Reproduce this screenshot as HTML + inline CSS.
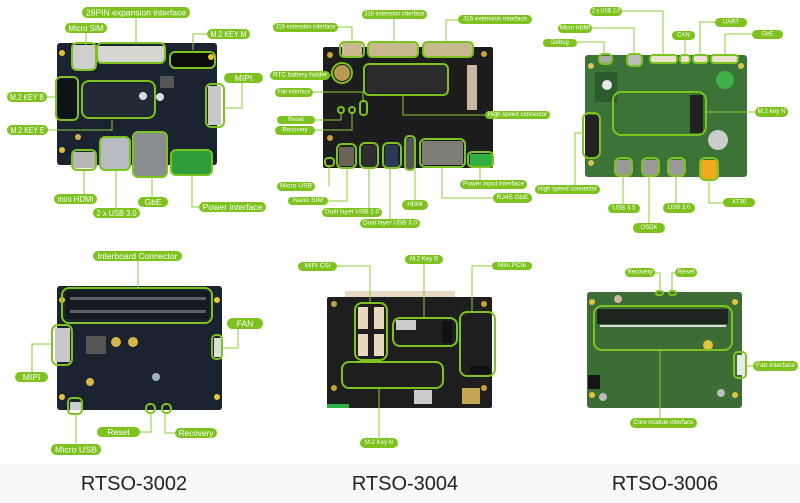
<!DOCTYPE html>
<html><head><meta charset="utf-8"><style>
html,body{margin:0;padding:0;background:#fff;width:800px;height:503px;overflow:hidden}
svg{display:block}
.p{fill:#7dc21e}
.t{fill:#fff;font-family:"Liberation Sans",sans-serif;text-anchor:middle;dominant-baseline:central}
.l{stroke:#8ccb3a;stroke-width:1;fill:none}
.o{stroke:#7dc21e;stroke-width:2;fill:none}
.ttl{font-family:"Liberation Sans",sans-serif;font-size:20px;fill:#222;text-anchor:middle}
</style></head><body>
<svg width="800" height="503" viewBox="0 0 800 503" xmlns="http://www.w3.org/2000/svg">
<rect x="0" y="464" width="800" height="39" fill="#f8f8f8"/>

<!-- ===== Board 1 ===== -->
<rect x="57" y="43" width="160" height="122" rx="3" fill="#1b2330"/>
<rect x="72" y="45" width="24" height="24" fill="#cfcfcf"/>
<rect x="98" y="46" width="66" height="16" fill="#d6d6d0"/>
<rect x="171" y="53" width="43" height="14" fill="#0d0d0d"/>
<rect x="58" y="79" width="19" height="40" fill="#0e1117"/>
<rect x="84" y="84" width="70" height="32" fill="#222a36"/>
<rect x="208" y="86" width="13" height="39" fill="#c8c8c8"/>
<rect x="160" y="76" width="14" height="12" fill="#555"/>
<circle cx="143" cy="96" r="4" fill="#ddd"/><circle cx="160" cy="97" r="4" fill="#ddd"/>
<rect x="73" y="152" width="22" height="16" fill="#b7b7b7"/>
<rect x="101" y="138" width="28" height="32" fill="#b9bcc2"/>
<rect x="134" y="133" width="32" height="43" fill="#8a8d90"/>
<rect x="172" y="151" width="39" height="23" fill="#2f9e3a"/>
<circle cx="62" cy="53" r="3" fill="#e3c23b"/><circle cx="62" cy="150" r="3" fill="#e3c23b"/>
<circle cx="211" cy="57" r="3" fill="#e3c23b"/><circle cx="78" cy="137" r="3" fill="#d4b54a"/>
<rect x="72" y="43" width="24" height="27" rx="5" class="o"/>
<rect x="97" y="43" width="68" height="20" rx="5" class="o"/>
<rect x="170" y="52" width="45" height="16" rx="5" class="o"/>
<rect x="56" y="77" width="22" height="43" rx="5" class="o"/>
<rect x="82" y="81" width="73" height="37" rx="7" class="o"/>
<rect x="206" y="84" width="18" height="43" rx="5" class="o"/>
<rect x="72" y="150" width="24" height="20" rx="5" class="o"/>
<rect x="100" y="137" width="30" height="33" rx="5" class="o"/>
<rect x="133" y="132" width="34" height="45" rx="5" class="o"/>
<rect x="171" y="150" width="41" height="25" rx="5" class="o"/>
<path class="l" d="M136 17V43M86 33V45M207 34H193V50M242 83V108H224M47 97H57M48 130H112V120M84 199V170M116 208V170M152 197V177M199 207H192V175"/>
<g font-size="8.5">
<rect class="p" x="82" y="7" width="108" height="11" rx="5.5"/><text class="t" x="136" y="12.5" textLength="100" lengthAdjust="spacingAndGlyphs">28PIN expansion interface</text>
<rect class="p" x="65" y="23" width="42" height="10" rx="5"/><text class="t" x="86" y="28" textLength="35" lengthAdjust="spacingAndGlyphs">Micro SIM</text>
<rect class="p" x="207" y="29" width="43" height="10" rx="5"/><text class="t" x="228.5" y="34" textLength="36" lengthAdjust="spacingAndGlyphs">M.2 KEY M</text>
<rect class="p" x="224" y="73" width="39" height="10" rx="5"/><text class="t" x="243.5" y="78">MIPI</text>
<rect class="p" x="7" y="92" width="40" height="10" rx="5"/><text class="t" x="27" y="97" textLength="34" lengthAdjust="spacingAndGlyphs">M.2 KEY B</text>
<rect class="p" x="7" y="125" width="41" height="10" rx="5"/><text class="t" x="27.5" y="130" textLength="34" lengthAdjust="spacingAndGlyphs">M.2 KEY E</text>
<rect class="p" x="54" y="194" width="43" height="10" rx="5"/><text class="t" x="75.5" y="199" textLength="36" lengthAdjust="spacingAndGlyphs">mini HDMI</text>
<rect class="p" x="93" y="208" width="47" height="10" rx="5"/><text class="t" x="116.5" y="213" textLength="40" lengthAdjust="spacingAndGlyphs">2 x USB 3.0</text>
<rect class="p" x="138" y="197" width="30" height="10" rx="5"/><text class="t" x="153" y="202">GbE</text>
<rect class="p" x="199" y="202" width="67" height="10" rx="5"/><text class="t" x="232.5" y="207" textLength="60" lengthAdjust="spacingAndGlyphs">Power interface</text>
</g>

<!-- ===== Board 2 ===== -->
<rect x="323" y="47" width="170" height="121" rx="2" fill="#1d1d1d"/>
<rect x="342" y="43" width="20" height="13" fill="#c9b98e"/>
<rect x="369" y="43" width="48" height="13" fill="#c9b98e"/>
<rect x="424" y="43" width="48" height="13" fill="#c9b98e"/>
<rect x="367" y="65" width="80" height="28" fill="#2c2c2c"/>
<circle cx="342" cy="73" r="8" fill="#b89a55"/>
<rect x="467" y="65" width="10" height="45" fill="#c8b8a0"/>
<rect x="339" y="147" width="15" height="19" fill="#6b6357"/>
<rect x="362" y="145" width="14" height="22" fill="#2d2d2d"/>
<rect x="385" y="145" width="13" height="22" fill="#2c3a55"/>
<rect x="406" y="138" width="8" height="31" fill="#555"/>
<rect x="422" y="141" width="41" height="24" fill="#7d7d76"/>
<rect x="470" y="154" width="22" height="12" fill="#30b040"/>
<circle cx="330" cy="55" r="3" fill="#c9a23b"/><circle cx="330" cy="138" r="3" fill="#c9a23b"/><circle cx="484" cy="54" r="3" fill="#c9a23b"/>
<rect x="340" y="42" width="24" height="15" rx="4" class="o"/>
<rect x="368" y="42" width="50" height="15" rx="4" class="o"/>
<rect x="423" y="42" width="50" height="15" rx="4" class="o"/>
<rect x="364" y="64" width="84" height="31" rx="5" class="o"/>
<circle cx="342" cy="73" r="10" class="o"/>
<circle cx="341" cy="110" r="3" class="o"/><circle cx="352" cy="110" r="3" class="o"/>
<rect x="360" y="101" width="7" height="14" rx="3" class="o"/>
<rect x="325" y="158" width="9" height="8" rx="3" class="o"/>
<rect x="337" y="144" width="19" height="24" rx="5" class="o"/>
<rect x="360" y="143" width="18" height="25" rx="5" class="o"/>
<rect x="383" y="143" width="18" height="25" rx="5" class="o"/>
<rect x="405" y="136" width="10" height="34" rx="4" class="o"/>
<rect x="420" y="139" width="45" height="28" rx="5" class="o"/>
<rect x="468" y="152" width="25" height="15" rx="4" class="o"/>
<path class="l" d="M338 27H352V42M394 19V42M458 20H446V42M330 75H332M313 92H363V100M315 120H341V113M315 130H352V113M485 115H403V96M329 186V166M328 201H347V168M369 212V168M390 224V168M415 205V170M493 198H442V167M493 184H480V167"/>
<g font-size="6">
<rect class="p" x="273" y="23" width="65" height="9" rx="4.5"/><text class="t" x="305.5" y="27.5" textLength="60" lengthAdjust="spacingAndGlyphs">J19 extension interface</text>
<rect class="p" x="362" y="10" width="65" height="9" rx="4.5"/><text class="t" x="394.5" y="14.5" textLength="60" lengthAdjust="spacingAndGlyphs">J18 extension interface</text>
<rect class="p" x="458" y="15" width="74" height="9" rx="4.5"/><text class="t" x="495" y="19.5" textLength="64" lengthAdjust="spacingAndGlyphs">J16 extension interface</text>
<rect class="p" x="270" y="71" width="60" height="9" rx="4.5"/><text class="t" x="300" y="75.5" textLength="54" lengthAdjust="spacingAndGlyphs">RTC battery holder</text>
<rect class="p" x="275" y="88" width="38" height="9" rx="4.5"/><text class="t" x="294" y="92.5" textLength="33" lengthAdjust="spacingAndGlyphs">Fan interface</text>
<rect class="p" x="277" y="116" width="38" height="8" rx="4"/><text class="t" x="296" y="120">Reset</text>
<rect class="p" x="275" y="126" width="40" height="9" rx="4.5"/><text class="t" x="295" y="130.5">Recovery</text>
<rect class="p" x="485" y="111" width="65" height="8" rx="4"/><text class="t" x="517.5" y="115" textLength="59" lengthAdjust="spacingAndGlyphs">High speed connector</text>
<rect class="p" x="277" y="182" width="38" height="9" rx="4.5"/><text class="t" x="296" y="186.5" textLength="32" lengthAdjust="spacingAndGlyphs">Micro USB</text>
<rect class="p" x="288" y="197" width="40" height="8" rx="4"/><text class="t" x="308" y="201" textLength="30" lengthAdjust="spacingAndGlyphs">Nano SIM</text>
<rect class="p" x="322" y="208" width="60" height="9" rx="4.5"/><text class="t" x="352" y="212.5" textLength="54" lengthAdjust="spacingAndGlyphs">Dual layer USB 2.0</text>
<rect class="p" x="402" y="200" width="26" height="10" rx="5"/><text class="t" x="415" y="205">HDMI</text>
<rect class="p" x="360" y="219" width="60" height="9" rx="4.5"/><text class="t" x="390" y="223.5" textLength="54" lengthAdjust="spacingAndGlyphs">Dual layer USB 3.0</text>
<rect class="p" x="460" y="180" width="67" height="9" rx="4.5"/><text class="t" x="493.5" y="184.5" textLength="61" lengthAdjust="spacingAndGlyphs">Power input interface</text>
<rect class="p" x="493" y="193" width="39" height="10" rx="5"/><text class="t" x="512.5" y="198" textLength="32" lengthAdjust="spacingAndGlyphs">RJ45 GbE</text>
</g>

<!-- ===== Board 3 ===== -->
<rect x="585" y="55" width="162" height="122" rx="3" fill="#3c7336"/>
<rect x="600" y="56" width="11" height="7" fill="#aaa"/>
<rect x="628" y="55" width="13" height="10" fill="#bbb"/>
<rect x="651" y="56" width="25" height="6" fill="#e8e4d0"/><rect x="681" y="56" width="8" height="6" fill="#e8e4d0"/>
<rect x="694" y="56" width="13" height="6" fill="#e8e4d0"/><rect x="712" y="56" width="25" height="6" fill="#e8e4d0"/>
<rect x="595" y="72" width="22" height="30" fill="#2c5a2c"/>
<circle cx="607" cy="85" r="5" fill="#e8e8e8"/>
<circle cx="725" cy="80" r="9" fill="#3fb048"/>
<rect x="690" y="95" width="13" height="38" fill="#222"/>
<circle cx="718" cy="140" r="10" fill="#ccc"/>
<rect x="585" y="115" width="14" height="42" fill="#222"/>
<rect x="616" y="160" width="15" height="15" fill="#999"/><rect x="643" y="160" width="15" height="15" fill="#999"/><rect x="669" y="160" width="15" height="15" fill="#999"/>
<rect x="700" y="160" width="18" height="20" rx="3" fill="#f0a81c"/>
<circle cx="591" cy="66" r="3" fill="#d9c45a"/><circle cx="741" cy="66" r="3" fill="#d9c45a"/><circle cx="591" cy="163" r="3" fill="#d9c45a"/>
<rect x="599" y="54" width="13" height="10" rx="4" class="o"/>
<rect x="627" y="54" width="15" height="12" rx="4" class="o"/>
<rect x="650" y="55" width="27" height="8" rx="3" class="o"/>
<rect x="680" y="55" width="10" height="8" rx="3" class="o"/>
<rect x="693" y="55" width="15" height="8" rx="3" class="o"/>
<rect x="711" y="55" width="27" height="8" rx="3" class="o"/>
<rect x="613" y="92" width="93" height="43" rx="8" class="o"/>
<rect x="583" y="113" width="17" height="45" rx="6" class="o"/>
<rect x="615" y="158" width="17" height="18" rx="5" class="o"/>
<rect x="642" y="158" width="17" height="18" rx="5" class="o"/>
<rect x="668" y="158" width="17" height="18" rx="5" class="o"/>
<rect x="700" y="158" width="18" height="22" rx="5" class="o"/>
<path class="l" d="M622 11H663V55M592 28H634V54M577 42H604V54M685 40V55M715 22H700V55M752 34H725V55M755 112H706M575 185V133H583M623 204V176M649 223V176M676 203V176M723 203H709V180"/>
<g font-size="6">
<rect class="p" x="590" y="7" width="32" height="9" rx="4.5"/><text class="t" x="606" y="11.5" textLength="28" lengthAdjust="spacingAndGlyphs">2 x USB 2.0</text>
<rect class="p" x="558" y="24" width="34" height="9" rx="4.5"/><text class="t" x="575" y="28.5" textLength="30" lengthAdjust="spacingAndGlyphs">Micro HDMI</text>
<rect class="p" x="543" y="39" width="34" height="8" rx="4"/><text class="t" x="560" y="43">Debug</text>
<rect class="p" x="672" y="31" width="23" height="9" rx="4.5"/><text class="t" x="683.5" y="35.5">CAN</text>
<rect class="p" x="715" y="18" width="32" height="9" rx="4.5"/><text class="t" x="731" y="22.5">UART</text>
<rect class="p" x="752" y="30" width="31" height="9" rx="4.5"/><text class="t" x="767.5" y="34.5">GbE</text>
<rect class="p" x="755" y="107" width="33" height="10" rx="5"/><text class="t" x="771.5" y="112" textLength="28" lengthAdjust="spacingAndGlyphs">M.2 key N</text>
<rect class="p" x="535" y="185" width="65" height="9" rx="4.5"/><text class="t" x="567.5" y="189.5" textLength="59" lengthAdjust="spacingAndGlyphs">High speed connector</text>
<rect class="p" x="608" y="204" width="32" height="9" rx="4.5"/><text class="t" x="624" y="208.5">USB 3.0</text>
<rect class="p" x="633" y="223" width="32" height="10" rx="5"/><text class="t" x="649" y="228">OSDK</text>
<rect class="p" x="663" y="203" width="32" height="10" rx="5"/><text class="t" x="679" y="208">USB 3.0</text>
<rect class="p" x="723" y="198" width="32" height="9" rx="4.5"/><text class="t" x="739" y="202.5">XT30</text>
</g>

<!-- ===== Board 4 ===== -->
<rect x="57" y="286" width="165" height="124" rx="3" fill="#1b2330"/>
<rect x="66" y="291" width="143" height="28" fill="#161a20"/>
<rect x="70" y="297" width="136" height="3" fill="#5b5f66"/><rect x="70" y="310" width="136" height="3" fill="#5b5f66"/>
<rect x="55" y="328" width="15" height="34" fill="#c8c8c8"/>
<rect x="214" y="338" width="7" height="19" fill="#ddd"/>
<rect x="86" y="336" width="20" height="18" fill="#555"/>
<circle cx="116" cy="342" r="5" fill="#d7b64a"/><circle cx="133" cy="342" r="5" fill="#d7b64a"/>
<circle cx="90" cy="382" r="4" fill="#d7b64a"/><circle cx="156" cy="377" r="4" fill="#9cb3c6"/>
<rect x="70" y="402" width="13" height="8" fill="#ccc"/>
<circle cx="62" cy="300" r="3" fill="#e5c63a"/><circle cx="217" cy="300" r="3" fill="#e5c63a"/>
<circle cx="62" cy="397" r="3" fill="#e5c63a"/><circle cx="217" cy="397" r="3" fill="#e5c63a"/>
<rect x="62" y="288" width="150" height="35" rx="7" class="o"/>
<rect x="52" y="325" width="20" height="40" rx="6" class="o"/>
<rect x="212" y="335" width="10" height="24" rx="4" class="o"/>
<rect x="68" y="398" width="14" height="16" rx="4" class="o"/>
<rect x="146" y="404" width="9" height="9" rx="4" class="o"/>
<rect x="162" y="404" width="9" height="9" rx="4" class="o"/>
<path class="l" d="M138 261V288M238 329V348H222M32 372V344H52M76 444V414M140 432H151V413M175 433H165V413"/>
<g font-size="8.5">
<rect class="p" x="93" y="251" width="89" height="10" rx="5"/><text class="t" x="137.5" y="256" textLength="80" lengthAdjust="spacingAndGlyphs">Interboard Connector</text>
<rect class="p" x="227" y="318" width="36" height="11" rx="5.5"/><text class="t" x="245" y="323.5">FAN</text>
<rect class="p" x="15" y="372" width="33" height="10" rx="5"/><text class="t" x="31.5" y="377">MIPI</text>
<rect class="p" x="97" y="427" width="43" height="10" rx="5"/><text class="t" x="118.5" y="432">Reset</text>
<rect class="p" x="175" y="428" width="42" height="10" rx="5"/><text class="t" x="196" y="433" textLength="35" lengthAdjust="spacingAndGlyphs">Recovery</text>
<rect class="p" x="51" y="444" width="50" height="11" rx="5.5"/><text class="t" x="76" y="449.5" textLength="42" lengthAdjust="spacingAndGlyphs">Micro USB</text>
</g>

<!-- ===== Board 5 ===== -->
<rect x="345" y="291" width="110" height="6" fill="#e6dcc4"/>
<rect x="327" y="297" width="165" height="111" rx="2" fill="#1e1e1e"/>
<rect x="358" y="307" width="10" height="22" fill="#e8d9bd"/><rect x="374" y="307" width="10" height="22" fill="#e8d9bd"/>
<rect x="358" y="334" width="10" height="22" fill="#e8d9bd"/><rect x="374" y="334" width="10" height="22" fill="#e8d9bd"/>
<rect x="396" y="320" width="20" height="10" fill="#ccc"/>
<rect x="442" y="321" width="10" height="22" fill="#111"/>
<rect x="470" y="366" width="20" height="8" fill="#111"/>
<rect x="414" y="390" width="18" height="14" fill="#ccc"/>
<rect x="462" y="388" width="18" height="16" fill="#c6a555"/>
<rect x="327" y="404" width="22" height="4" fill="#2bb04a"/>
<circle cx="334" cy="304" r="3" fill="#c9a23b"/><circle cx="484" cy="304" r="3" fill="#c9a23b"/><circle cx="484" cy="388" r="3" fill="#c9a23b"/><circle cx="334" cy="388" r="3" fill="#c9a23b"/>
<rect x="355" y="303" width="32" height="57" rx="7" class="o"/>
<rect x="393" y="318" width="64" height="28" rx="7" class="o"/>
<rect x="460" y="312" width="35" height="64" rx="7" class="o"/>
<rect x="342" y="362" width="101" height="26" rx="7" class="o"/>
<path class="l" d="M337 266H370V303M424 264V318M492 266H472V312M379 438V388"/>
<g font-size="6">
<rect class="p" x="298" y="262" width="39" height="9" rx="4.5"/><text class="t" x="317.5" y="266.5" textLength="26" lengthAdjust="spacingAndGlyphs">MIPI CSI</text>
<rect class="p" x="405" y="255" width="38" height="9" rx="4.5"/><text class="t" x="424" y="259.5" textLength="28" lengthAdjust="spacingAndGlyphs">M.2 Key B</text>
<rect class="p" x="492" y="262" width="40" height="8" rx="4"/><text class="t" x="512" y="266" textLength="28" lengthAdjust="spacingAndGlyphs">Mini PCIe</text>
<rect class="p" x="360" y="438" width="38" height="10" rx="5"/><text class="t" x="379" y="443" textLength="28" lengthAdjust="spacingAndGlyphs">M.2 Key N</text>
</g>

<!-- ===== Board 6 ===== -->
<rect x="587" y="292" width="155" height="116" rx="3" fill="#3b6d35"/>
<rect x="597" y="309" width="131" height="15" fill="#1e2420"/>
<rect x="600" y="325" width="126" height="2" fill="#ddd"/>
<circle cx="618" cy="299" r="4" fill="#c9bca0"/>
<circle cx="708" cy="345" r="5" fill="#e0c53a"/>
<rect x="737" y="355" width="8" height="20" fill="#e8e8e8"/>
<rect x="588" y="375" width="12" height="14" fill="#151515"/>
<circle cx="603" cy="397" r="4" fill="#bbb"/><circle cx="721" cy="393" r="4" fill="#bbb"/>
<circle cx="592" cy="302" r="3" fill="#e0c53a"/><circle cx="735" cy="302" r="3" fill="#e0c53a"/><circle cx="592" cy="395" r="3" fill="#e0c53a"/><circle cx="735" cy="395" r="3" fill="#e0c53a"/>
<rect x="594" y="306" width="138" height="44" rx="8" class="o"/>
<rect x="734" y="352" width="12" height="26" rx="4" class="o"/>
<rect x="656" y="291" width="7" height="4" rx="2" class="o"/>
<rect x="669" y="291" width="7" height="4" rx="2" class="o"/>
<path class="l" d="M655 273H660V291M675 273H672V291M753 366H746M660 418V350"/>
<g font-size="6">
<rect class="p" x="625" y="268" width="30" height="9" rx="4.5"/><text class="t" x="640" y="272.5" textLength="25" lengthAdjust="spacingAndGlyphs">Recovery</text>
<rect class="p" x="675" y="268" width="22" height="9" rx="4.5"/><text class="t" x="686" y="272.5" textLength="17" lengthAdjust="spacingAndGlyphs">Reset</text>
<rect class="p" x="753" y="361" width="45" height="10" rx="5"/><text class="t" x="775.5" y="366" textLength="39" lengthAdjust="spacingAndGlyphs">Fan interface</text>
<rect class="p" x="630" y="418" width="67" height="10" rx="5"/><text class="t" x="663.5" y="423" textLength="60" lengthAdjust="spacingAndGlyphs">Core module interface</text>
</g>

<text class="ttl" x="134" y="490">RTSO-3002</text>
<text class="ttl" x="405" y="490">RTSO-3004</text>
<text class="ttl" x="665" y="490">RTSO-3006</text>
</svg>
</body></html>
